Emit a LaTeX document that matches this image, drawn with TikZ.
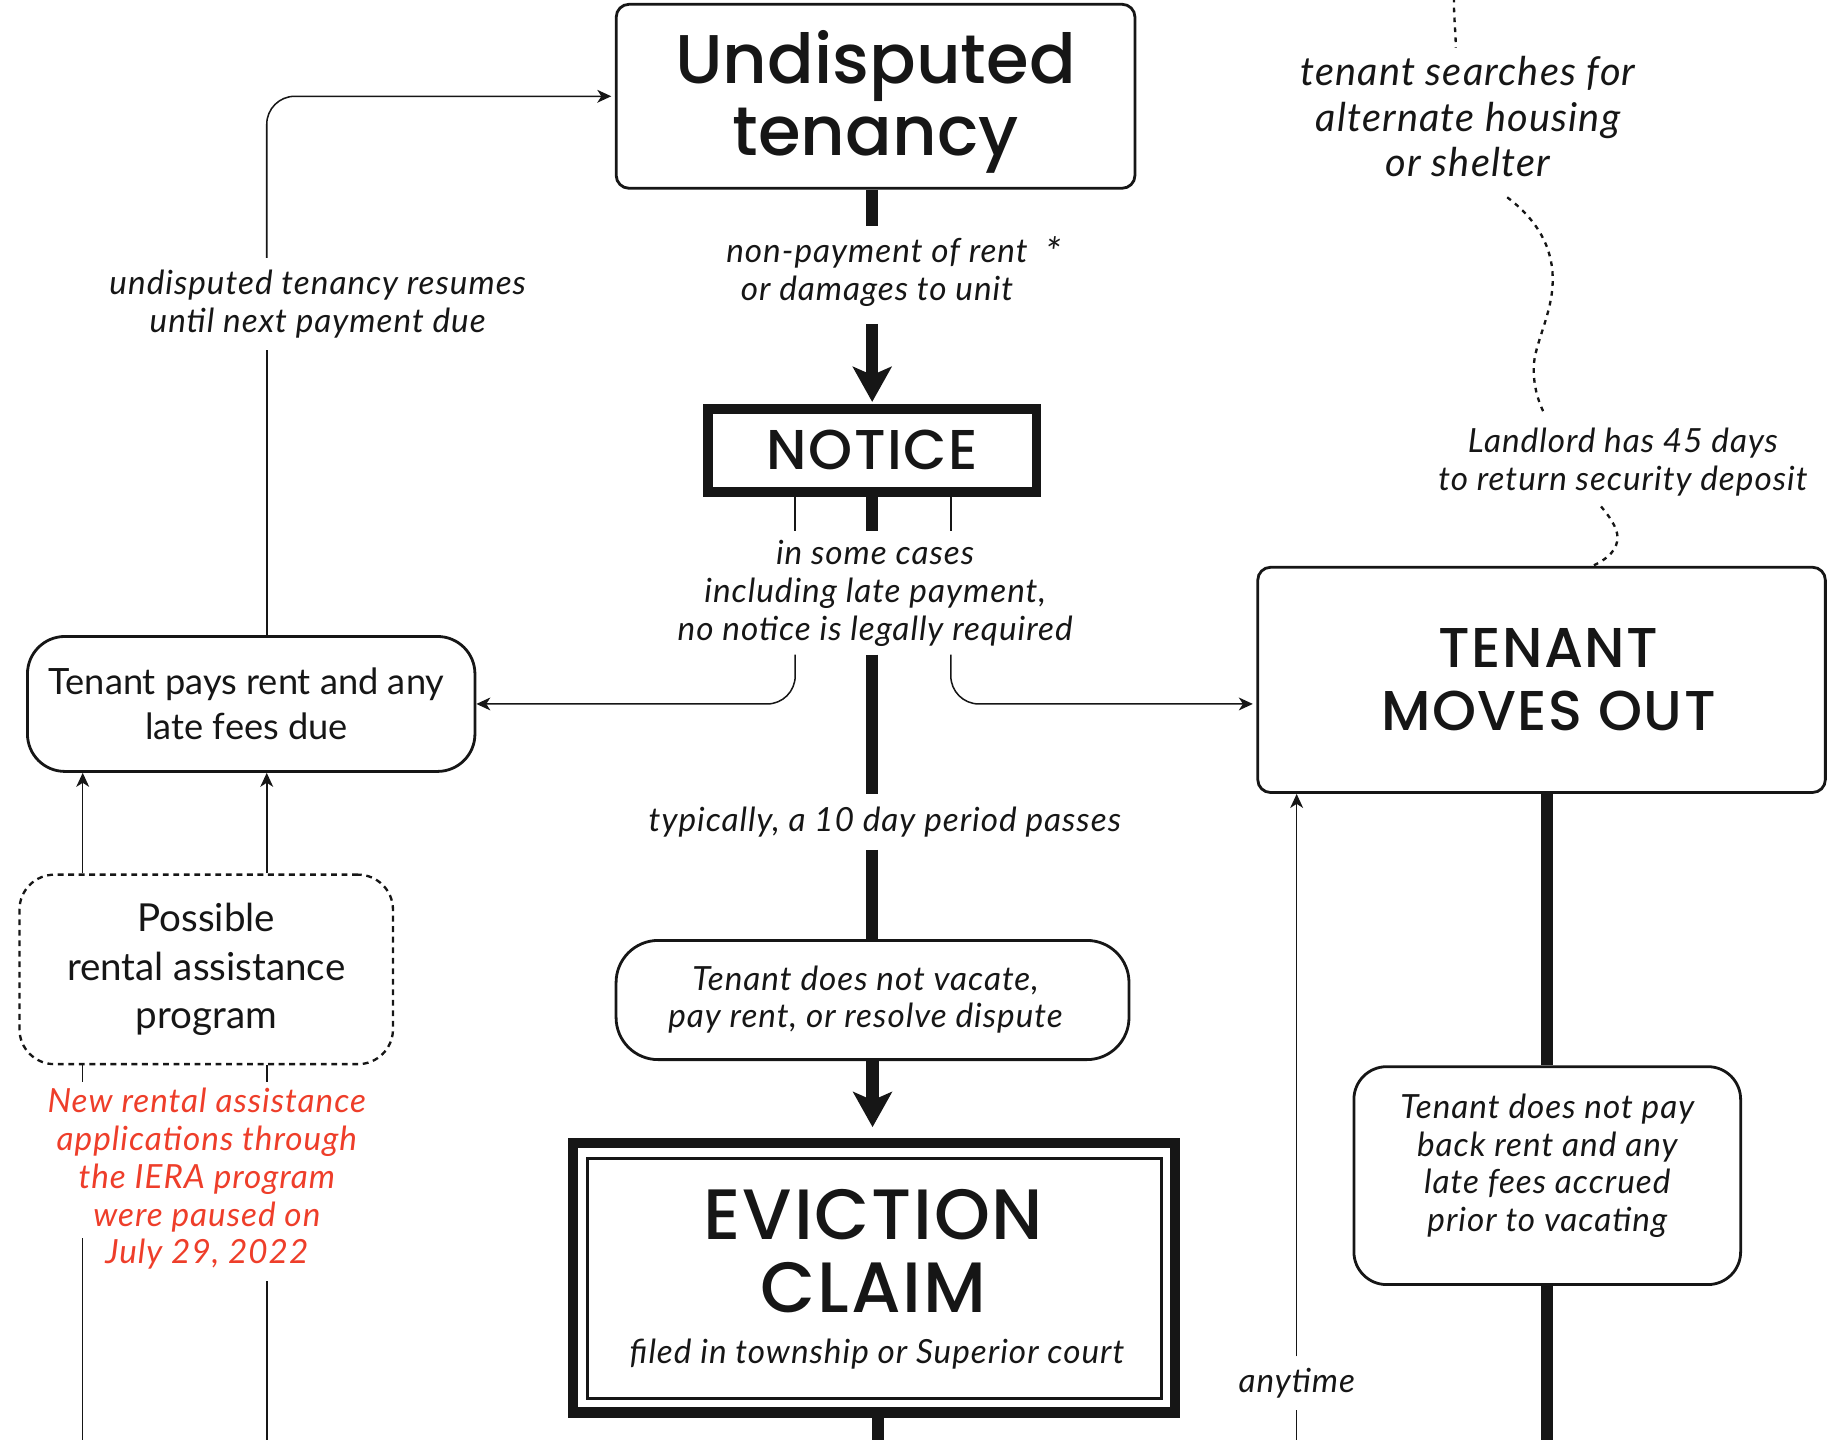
\documentclass[tikz,border=0pt]{standalone}
\usepackage{fontspec}
\setmainfont{Lato}
\IfFontExistsTF{Poppins Medium}
  {\newfontfamily\headfont{Poppins Medium}\newfontfamily\capsfont{Poppins Medium}[LetterSpace=2.5]}
  {\newfontfamily\headfont{Poppins}\newfontfamily\capsfont{Poppins}[LetterSpace=2.5]}
\newfontfamily\labfont{Lato}[LetterSpace=3]
\usetikzlibrary{arrows.meta,calc}
\definecolor{ink}{RGB}{22,22,22}
\definecolor{alertred}{RGB}{238,62,42}
\tikzset{
  every node/.style={text=ink},
  sqbox/.style={draw=ink, line width=2.4pt, rounded corners=11pt, inner sep=0pt, align=center},
  rbox/.style={draw=ink, line width=2.4pt, rounded corners=30pt, inner sep=0pt, align=center},
  lab/.style={align=center, font=\labfont\itshape\fontsize{28.5}{32.5}\selectfont, inner xsep=2pt, inner ysep=4pt},
  thickln/.style={draw=ink, line width=10.5pt},
  thinln/.style={draw=ink, line width=1.3pt},
  bigtip/.style={-{Stealth[length=30pt,width=33pt,inset=7pt]}},
  smalltip/.style={-{Stealth[length=12pt,width=11pt,inset=3.5pt]}},
  dotln/.style={draw=ink, line width=2pt, dash pattern=on 4pt off 4.5pt},
}
\begin{document}
\begin{tikzpicture}[x=1pt,y=-1pt]
\useasboundingbox (0,0) rectangle (1568,1232);
\coordinate (bot) at (0,1245);

% ---------- boxes ----------
\node[sqbox, minimum width=444pt, minimum height=157.5pt,
      font=\headfont\fontsize{59}{61}\selectfont] (ut) at (749.4,82.4) {\rule{0pt}{55pt}Undisputed\\tenancy};

\node[draw=ink, line width=8pt, minimum width=281pt, minimum height=71pt, inner sep=0pt,
      font=\capsfont\fontsize{48}{50}\selectfont] (nt) at (746.5,385.5) {NOTICE};

\node[sqbox, minimum width=485.8pt, minimum height=192.8pt,
      font=\capsfont\fontsize{48}{54}\selectfont] (tmo) at (1319.4,581.9) {\hspace*{12pt}TENANT\\\hspace*{12pt}MOVES OUT};

\node[rbox, rounded corners=32pt, minimum width=383pt, minimum height=115.5pt,
      font=\fontsize{31}{39}\selectfont] (tp) at (215,602.5) {\hspace*{-8pt}Tenant pays rent and any\\\hspace*{-8pt}late fees due};

\node[draw=ink, line width=2pt, dash pattern=on 5pt off 4pt, rounded corners=30pt,
      minimum width=319.7pt, minimum height=162.2pt, inner sep=0pt, align=center,
      font=\fontsize{33}{41.5}\selectfont] (pr) at (176.5,829.7) {Possible\\rental assistance\\program};

\node[rbox, rounded corners=36pt, minimum width=439pt, minimum height=102pt,
      font=\labfont\itshape\fontsize{28.5}{31.7}\selectfont] (tdv) at (746.8,855.9) {\hspace*{-12pt}Tenant does not vacate,\\\hspace*{-12pt}pay rent, or resolve dispute};

\node[draw=ink, line width=9pt, minimum width=515.3pt, minimum height=230.6pt, inner sep=0pt] (ec) at (748.2,1093.5) {};
\draw[ink, line width=2.4pt] ([shift={(16.5,17.5)}]ec.north west) rectangle ([shift={(-16.5,-16.5)}]ec.south east);
\node[font=\capsfont\fontsize{61}{62.5}\selectfont, align=center, inner sep=0pt] (ect) at (747.7,1070.4) {EVICTION\\CLAIM};
\node[lab, inner sep=0pt] (ecs) at (750.6,1158.7) {filed in township or Superior court};

\node[rbox, rounded corners=28pt, minimum width=331pt, minimum height=186.5pt,
      font=\labfont\itshape\fontsize{28.5}{32.4}\selectfont] (tdp) at (1324.3,1006.2) {Tenant does not pay\\back rent and any\\late fees accrued\\prior to vacating\rule[-22pt]{0pt}{22pt}};

% ---------- labels ----------
\node[lab, inner ysep=9pt] (l1) at (750.6,232.4) {non-payment of rent\rlap{\hspace{15pt}\raisebox{-4pt}{\fontsize{34}{34}\selectfont *}}\\or damages to unit};
\node[lab, inner ysep=7pt] (l2) at (749,507.5) {in some cases\\including late payment,\\no notice is legally required};
\node[lab, inner ysep=11pt] (l3) at (757.3,703.3) {typically, a 10 day period passes};
\node[lab, inner ysep=10pt] (l4) at (271.9,260) {undisputed tenancy resumes\\until next payment due};
\node[lab, text=alertred, inner ysep=5pt, font=\labfont\itshape\fontsize{28.5}{32.3}\selectfont] (l5) at (177,1009) {New rental assistance\\applications through\\the IERA program\\were paused on\\July 29, 2022};
\node[lab, inner ysep=10pt] (l6) at (1110,1184) {anytime};
\node[lab, font=\labfont\itshape\fontsize{34}{38.8}\selectfont] (l7) at (1256.4,99.8) {tenant searches for\\alternate housing\\or shelter};
\node[lab] (l8) at (1389,395.4) {Landlord has 45 days\\to return security deposit};

% ---------- main trunk ----------
\draw[thickln] (nt.north |- ut.south) -- (nt.north |- l1.north);
\draw[thickln, bigtip, shorten <=6pt, shorten >=2pt] (nt.north |- l1.south) -- (nt.north);
\draw[thickln] (nt.south) -- (nt.south |- l2.north);
\draw[thickln] (nt.south |- l2.south) -- (nt.south |- l3.north);
\draw[thickln] (nt.south |- l3.south) -- (nt.south |- tdv.north);
\draw[thickln, bigtip, shorten >=9pt] (tdv.south) -- (tdv.south |- ec.north);
\coordinate (ecb) at ($(ec.south)+(3.3,0)$);
\draw[thickln] (ecb) -- (ecb |- bot);

% ---------- branches from notice ----------
\coordinate (nl) at ($(nt.south)+(-65.9,0)$);
\coordinate (nr) at ($(nt.south)+(67.3,0)$);
\draw[thinln] (nl) -- (nl |- l2.north);
\draw[thinln] (nr) -- (nr |- l2.north);
\draw[thinln, smalltip, rounded corners=24pt] (nl |- l2.south) -- (nl |- tp.east) -- (tp.east);
\draw[thinln, smalltip, rounded corners=24pt, shorten >=3pt] (nr |- l2.south) -- (nr |- tp.east) -- (tmo.west |- tp.east);

% ---------- back to undisputed tenancy ----------
\coordinate (tpu) at ($(tp.north)+(13.3,0)$);
\draw[thinln] (tpu) -- (tpu |- l4.south);
\draw[thinln, smalltip, rounded corners=24pt, shorten >=3pt] (tpu |- l4.north) -- (tpu |- ut.west) -- (ut.west);

% ---------- rental assistance ----------
\coordinate (pa) at ($(pr.north)+(-105.7,0)$);
\coordinate (pb) at ($(pr.north)+(51.8,0)$);
\draw[thinln, smalltip] (pa) -- (pa |- tp.south);
\draw[thinln, smalltip] (pb) -- (pb |- tp.south);
\draw[thinln] (pa |- pr.south) -- (pa |- l5.north);
\draw[thinln] (pb |- pr.south) -- (pb |- l5.north);
\draw[thinln] (pa |- bot) -- ++(0,-185);
\draw[thinln] (pb |- bot) -- ++(0,-149);

% ---------- tenant moves out trunk ----------
\draw[thickln] (tdp.north |- tmo.south) -- (tdp.north);
\draw[thickln] (tdp.south) -- (tdp.south |- bot);

% ---------- anytime ----------
\coordinate (any) at ($(tmo.south west)+(34.5,0)$);
\draw[thinln] (any |- bot) -- (any |- l6.south);
\draw[thinln, smalltip] (any |- l6.north) -- (any);

% ---------- dotted ----------
\draw[dotln] (1244.4,-2) .. controls (1244.2,14) and (1246,28) .. ($(l7.north)+(-10.4,-3.2)$);
\draw[dotln] ($(l7.south)+(33.6,13.4)$) .. controls (1318,190) and (1330,215) .. (1328.9,242.4)
   .. controls (1328,270) and (1313,295) .. (1312.7,314.4)
   .. controls (1312.5,330) and (1316,342) .. ($(l8.north)+(-68,-9.5)$);
\draw[dotln] ($(l8.south)+(-18.7,4.7)$) .. controls (1380,445) and (1386,455) .. (1384.1,463.5)
   .. controls (1382,474) and (1372,480) .. ($(tmo.north)+(44,0)$);
\end{tikzpicture}
\end{document}
